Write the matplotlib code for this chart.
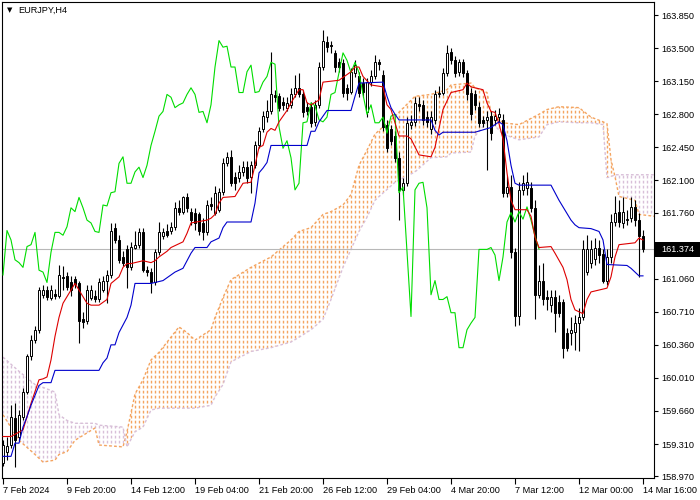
import numpy as np
import matplotlib
matplotlib.use("Agg")
import matplotlib.pyplot as plt
import matplotlib.transforms as mtransforms
from matplotlib.path import Path
from matplotlib.patches import PathPatch, Rectangle

plt.rcParams['font.family'] = ['Liberation Sans', 'DejaVu Sans']

symbol = "EURJPY,H4"
last_price = 161.374

opens = [
    159.11, 159.23, 159.30, 159.59, 159.39, 159.60, 159.86, 160.24, 160.41, 160.52,
    160.89, 160.94, 160.86, 160.90, 160.88, 161.08, 161.09, 161.03, 161.06, 161.01,
    160.63, 160.61, 160.86, 160.88, 160.84, 160.94, 161.04, 161.10, 161.60, 161.47,
    161.29, 161.37, 161.18, 161.39, 161.42, 161.55, 161.15, 161.13, 161.02, 161.34,
    161.51, 161.56, 161.56, 161.61, 161.81, 161.77, 161.92, 161.77, 161.76, 161.74,
    161.65, 161.55, 161.85, 161.76, 161.79, 161.98, 162.28, 162.35, 162.14, 162.13,
    162.19, 162.24, 162.14, 162.26, 162.47, 162.64, 162.77, 162.83, 163.00, 162.99,
    162.93, 162.87, 162.90, 163.01, 163.08, 163.01, 162.88, 162.88, 162.72, 162.90,
    163.30, 163.56, 163.53, 163.45, 163.35, 163.34, 163.08, 163.04, 163.24, 163.20,
    163.13, 162.82, 163.14, 163.20, 163.35, 163.22, 162.69, 162.64, 162.57, 162.34,
    162.00, 162.07, 162.69, 162.72, 162.91, 162.90, 162.77, 162.64, 162.74, 163.01,
    163.03, 163.24, 163.46, 163.37, 163.25, 163.35, 163.24, 163.03, 163.01, 162.88,
    162.74, 162.74, 162.78, 162.74, 162.77, 162.74, 161.97, 162.03, 161.34, 160.66,
    162.00, 162.02, 162.02, 161.81, 160.89, 161.04, 160.87, 160.78, 160.87, 160.81,
    160.81, 160.49, 160.49, 160.50, 160.59, 160.65, 161.13, 161.23, 161.27, 161.39,
    161.32, 161.04, 161.29, 161.66, 161.77, 161.65, 161.68, 161.70, 161.82, 161.68,
    161.51]

highs = [
    159.35, 159.38, 159.72, 159.74, 159.67, 159.90, 160.26, 160.46, 160.56, 160.97,
    160.99, 160.98, 160.99, 160.95, 161.20, 161.19, 161.13, 161.09, 161.09, 161.04,
    160.71, 160.99, 160.99, 160.94, 161.07, 161.09, 161.15, 161.65, 161.65, 161.52,
    161.35, 161.42, 161.45, 161.56, 161.60, 161.60, 161.19, 161.17, 161.37, 161.66,
    161.60, 161.64, 161.66, 161.87, 161.89, 161.94, 161.97, 161.81, 161.81, 161.77,
    161.70, 161.89, 161.92, 162.04, 162.02, 162.34, 162.40, 162.42, 162.19, 162.26,
    162.31, 162.31, 162.31, 162.52, 162.67, 162.83, 162.95, 163.46, 163.06, 163.03,
    162.98, 162.98, 163.08, 163.22, 163.24, 163.06, 162.93, 162.93, 162.95, 163.35,
    163.69, 163.63, 163.58, 163.48, 163.40, 163.39, 163.12, 163.29, 163.37, 163.25,
    163.18, 163.18, 163.27, 163.43, 163.39, 163.27, 162.74, 162.69, 162.62, 162.40,
    162.13, 162.77, 162.79, 162.98, 162.98, 162.95, 162.83, 162.83, 163.06, 163.10,
    163.29, 163.53, 163.50, 163.42, 163.39, 163.39, 163.27, 163.08, 163.06, 162.93,
    162.78, 162.83, 162.83, 162.85, 162.87, 162.80, 162.15, 162.16, 161.39, 162.08,
    162.16, 162.19, 162.08, 161.89, 161.20, 161.23, 160.94, 160.94, 160.94, 160.89,
    160.85, 160.54, 160.65, 160.68, 160.75, 161.47, 161.52, 161.47, 161.49, 161.47,
    161.37, 161.37, 161.74, 161.94, 161.89, 161.92, 161.79, 161.92, 161.89, 161.76,
    161.58]

lows = [
    159.08, 159.14, 159.27, 159.07, 159.35, 159.56, 159.84, 160.20, 160.38, 160.49,
    160.86, 160.83, 160.83, 160.85, 160.86, 160.94, 160.94, 160.88, 160.96, 160.38,
    160.54, 160.58, 160.83, 160.81, 160.81, 160.92, 160.80, 161.07, 161.44, 161.23,
    161.19, 160.96, 161.15, 161.37, 161.39, 161.13, 161.09, 160.91, 160.99, 161.31,
    161.48, 161.50, 161.53, 161.58, 161.73, 161.74, 161.77, 161.63, 161.58, 161.52,
    161.47, 161.52, 161.79, 161.73, 161.77, 161.95, 162.25, 162.04, 162.00, 162.08,
    162.15, 162.07, 161.97, 162.23, 162.44, 162.61, 162.72, 162.80, 162.93, 162.83,
    162.85, 162.83, 162.87, 162.98, 162.98, 162.77, 162.79, 162.66, 162.68, 162.87,
    163.27, 163.46, 163.45, 163.25, 163.25, 162.98, 162.95, 163.01, 163.19, 162.98,
    162.98, 162.77, 163.10, 163.17, 163.27, 162.62, 162.40, 162.47, 162.30, 161.68,
    161.95, 162.04, 162.64, 162.68, 162.83, 162.69, 162.66, 162.59, 162.70, 162.98,
    163.00, 163.21, 163.33, 163.19, 163.21, 163.19, 162.95, 162.74, 162.85, 162.66,
    162.66, 162.21, 162.53, 162.69, 162.72, 161.92, 161.92, 161.28, 160.56, 160.57,
    161.95, 161.95, 161.77, 160.63, 160.86, 160.78, 160.73, 160.71, 160.50, 160.65,
    160.22, 160.29, 160.36, 160.31, 160.29, 160.62, 161.10, 161.17, 161.20, 161.23,
    161.01, 160.99, 161.23, 161.62, 161.61, 161.60, 161.63, 161.66, 161.62, 161.08,
    161.34]

closes = [
    159.30, 159.29, 159.60, 159.35, 159.62, 159.86, 160.24, 160.41, 160.52, 160.94,
    160.94, 160.87, 160.94, 160.88, 161.10, 161.07, 160.97, 160.94, 161.00, 160.61,
    160.60, 160.94, 160.94, 160.84, 161.02, 161.04, 161.10, 161.57, 161.47, 161.26,
    161.23, 161.18, 161.40, 161.42, 161.55, 161.15, 161.13, 161.02, 161.34, 161.55,
    161.55, 161.52, 161.61, 161.81, 161.77, 161.92, 161.81, 161.68, 161.65, 161.56,
    161.55, 161.84, 161.83, 161.97, 161.98, 162.28, 162.35, 162.07, 162.07, 162.19,
    162.24, 162.13, 162.26, 162.47, 162.62, 162.78, 162.83, 163.01, 162.98, 162.87,
    162.90, 162.92, 163.01, 163.08, 163.01, 162.82, 162.83, 162.71, 162.90, 163.30,
    163.58, 163.51, 163.52, 163.30, 163.30, 163.03, 163.03, 163.25, 163.32, 163.03,
    163.04, 163.14, 163.20, 163.35, 163.33, 162.67, 162.44, 162.52, 162.34, 162.00,
    162.07, 162.71, 162.72, 162.92, 162.89, 162.74, 162.72, 162.77, 163.01, 163.03,
    163.24, 163.45, 163.37, 163.24, 163.35, 163.24, 163.01, 162.80, 162.90, 162.71,
    162.71, 162.77, 162.60, 162.78, 162.80, 161.97, 162.03, 161.34, 160.66, 162.00,
    162.07, 162.08, 161.81, 160.89, 161.04, 160.84, 160.84, 160.87, 160.70, 160.70,
    160.33, 160.33, 160.52, 160.59, 160.65, 161.37, 161.37, 161.37, 161.39, 161.31,
    161.04, 161.29, 161.66, 161.76, 161.66, 161.77, 161.69, 161.82, 161.68, 161.51,
    161.374]

tenkan_bars = [0, 2, 5, 7, 9, 10, 11, 12, 13, 14, 15, 17, 18, 19, 21, 22, 24, 26, 27, 29,
               30, 31, 32, 35, 37, 38, 39, 41, 42, 45, 46, 47, 51, 52, 53, 54, 55, 58, 60, 62,
               63, 64, 65, 66, 67, 68, 69, 71, 72, 74, 75, 76, 77, 79, 80, 84, 87, 88, 89, 90,
               92, 95, 96, 97, 98, 99, 101, 102, 104, 107, 108, 109, 110, 112, 115, 116, 117, 120, 121, 122,
               123, 124, 125, 126, 127, 128, 131, 132, 133, 134, 137, 138, 140, 141, 142, 143, 145, 146, 147, 151,
               152, 153, 154, 158, 159, 160]
tenkan_vals = [159.39, 159.39, 159.46, 159.74, 159.99, 160.00, 160.02, 160.20, 160.45, 160.65,
               160.80, 160.94, 161.01, 160.94, 160.80, 160.78, 160.78, 160.84, 161.01, 161.08,
               161.18, 161.22, 161.22, 161.25, 161.23, 161.25, 161.29, 161.35, 161.39, 161.45,
               161.54, 161.65, 161.68, 161.70, 161.74, 161.86, 161.92, 161.93, 162.07, 162.08,
               162.26, 162.45, 162.47, 162.61, 162.65, 162.63, 162.72, 162.84, 162.92, 163.06,
               163.06, 162.92, 162.90, 162.95, 163.14, 163.16, 163.25, 163.30, 163.30, 163.20,
               163.11, 163.09, 162.90, 162.85, 162.71, 162.57, 162.57, 162.54, 162.37, 162.35,
               162.45, 162.65, 162.85, 163.03, 163.06, 163.13, 163.09, 163.06, 162.92, 162.83,
               162.82, 162.70, 162.54, 162.18, 161.89, 161.79, 161.79, 161.72, 161.50, 161.39,
               161.40, 161.33, 161.18, 161.05, 160.84, 160.73, 160.69, 160.84, 160.92, 160.96,
               161.08, 161.29, 161.42, 161.44, 161.49, 161.47]

kijun_bars = [0, 2, 3, 4, 5, 6, 7, 9, 10, 12, 13, 24, 25, 26, 27, 28, 29, 30, 31, 32,
              33, 37, 38, 40, 42, 43, 45, 46, 47, 48, 51, 52, 54, 55, 56, 62, 63, 64, 65, 66,
              67, 76, 77, 78, 79, 81, 87, 88, 89, 95, 96, 97, 98, 99, 107, 108, 109, 110, 118, 122,
              124, 125, 126, 127, 128, 129, 137, 138, 139, 140, 142, 143, 144, 147, 149, 150, 151, 156, 157, 158,
              159, 160]
kijun_vals = [159.18, 159.18, 159.32, 159.32, 159.49, 159.60, 159.72, 159.93, 159.96, 159.96,
              160.09, 160.09, 160.17, 160.22, 160.36, 160.36, 160.49, 160.57, 160.65, 160.78,
              161.01, 161.01, 161.02, 161.04, 161.10, 161.13, 161.17, 161.25, 161.33, 161.39,
              161.39, 161.45, 161.49, 161.60, 161.66, 161.66, 161.86, 162.18, 162.23, 162.29,
              162.47, 162.47, 162.62, 162.62, 162.72, 162.84, 162.84, 162.99, 163.13, 163.14,
              162.99, 162.87, 162.80, 162.74, 162.74, 162.63, 162.58, 162.61, 162.61, 162.66,
              162.72, 162.69, 162.52, 162.26, 162.07, 162.05, 162.05, 161.97, 161.89, 161.82,
              161.68, 161.63, 161.60, 161.59, 161.56, 161.47, 161.21, 161.20, 161.17, 161.13,
              161.09, 161.09]

cloud_bars = [0, 4, 8, 10, 13, 14, 16, 18, 23, 24, 30, 31, 33, 35, 37, 39, 44, 46, 48, 52,
              53, 55, 57, 62, 67, 72, 74, 77, 80, 82, 85, 87, 89, 91, 93, 98, 103, 107, 111, 112,
              117, 118, 121, 122, 125, 129, 134, 136, 139, 144, 147, 150, 151, 152, 153, 154, 158, 159, 163]
span_a = [159.62, 159.35, 159.20, 159.12, 159.14, 159.20, 159.23, 159.35, 159.48, 159.30,
          159.28, 159.44, 159.84, 159.99, 160.20, 160.28, 160.55, 160.49, 160.41, 160.52,
          160.65, 160.86, 161.05, 161.18, 161.29, 161.47, 161.56, 161.60, 161.74, 161.77,
          161.84, 161.95, 162.26, 162.42, 162.59, 162.78, 162.99, 163.01, 163.06, 163.11,
          163.13, 163.08, 163.03, 162.82, 162.71, 162.69, 162.80, 162.85, 162.88, 162.87,
          162.77, 162.72, 162.70, 162.32, 162.14, 161.93, 161.89, 161.74, 161.72]
span_b = [160.23, 160.08, 159.94, 159.91, 159.86, 159.62, 159.56, 159.53, 159.53, 159.51,
          159.49, 159.28, 159.44, 159.49, 159.67, 159.69, 159.69, 159.69, 159.69, 159.72,
          159.81, 159.94, 160.18, 160.29, 160.33, 160.39, 160.44, 160.52, 160.63, 160.84,
          161.18, 161.37, 161.56, 161.71, 161.89, 162.08, 162.19, 162.34, 162.35, 162.39,
          162.40, 162.57, 162.72, 162.72, 162.59, 162.53, 162.56, 162.69, 162.72, 162.71,
          162.71, 162.69, 162.13, 162.14, 162.16, 162.16, 162.16, 162.16, 162.16]

chikou_shift = 26

date_bars = [0, 16, 32, 48, 64, 80, 96, 112, 128, 144, 160]
date_labels = ["7 Feb 2024", "9 Feb 20:00", "14 Feb 12:00", "19 Feb 04:00", "21 Feb 20:00",
               "26 Feb 12:00", "29 Feb 04:00", "4 Mar 20:00", "7 Mar 12:00", "12 Mar 00:00",
               "14 Mar 16:00"]
price_ticks = [163.850, 163.500, 163.150, 162.800, 162.450, 162.100, 161.760,
               161.060, 160.710, 160.360, 160.010, 159.660, 159.310, 158.970]

# ---------------------------------------------------------------------------
W, H = 700, 500
fig = plt.figure(figsize=(7, 5), dpi=100)
fig.patch.set_facecolor('white')
ax = fig.add_axes([2 / W, 22 / H, 652 / W, 476 / H])
ax.set_facecolor('white')
YLO, YHI = 158.951, 163.988
ax.set_xlim(-0.25, 162.75)
ax.set_ylim(YLO, YHI)

n = len(closes)
bars = np.arange(n)
o = np.array(opens); h = np.array(highs); l = np.array(lows); c = np.array(closes)

# Kumo (cloud): dotted vertical hatching clipped to the area between the spans
cx = np.array(cloud_bars, dtype=float)
ca = np.array(span_a); cb = np.array(span_b)
up_col, dn_col = '#F4A460', '#D8BFD8'
up = ax.fill_between(cx, ca, cb, where=ca >= cb, interpolate=True,
                     facecolor='none', edgecolor='none', linewidth=0)
dn = ax.fill_between(cx, ca, cb, where=ca < cb, interpolate=True,
                     facecolor='none', edgecolor='none', linewidth=0)
hatch_x = np.arange(-1, 165)
dash = (0, (2.0, 1.6))
for coll, col in [(up, up_col), (dn, dn_col)]:
    for p in coll.get_paths():
        if len(p.vertices) < 3:
            continue
        patch = PathPatch(Path(p.vertices), transform=ax.transData, facecolor='none',
                          edgecolor='none', linewidth=0)
        ax.add_patch(patch)
        vl = ax.vlines(hatch_x, YLO, YHI, colors=[col], linestyles=[dash],
                       linewidths=[1.0], zorder=1)
        vl.set_clip_path(patch)
ax.plot(cx, ca, color=up_col, linestyle=dash, linewidth=1.0, zorder=1)
ax.plot(cx, cb, color=dn_col, linestyle=dash, linewidth=1.0, zorder=1)

# Bid line
ax.axhline(last_price, color='#b8b8b8', linewidth=0.8, zorder=2)

# Candles
ax.vlines(bars, l, h, color='black', linewidth=0.8, zorder=3)
body_lo = np.minimum(o, c)
body_h = np.abs(c - o)
face = ['white' if cc >= oo else 'black' for oo, cc in zip(o, c)]
ax.bar(bars, body_h, bottom=body_lo, width=0.5, color=face,
       edgecolor='black', linewidth=0.7, zorder=4)

# Ichimoku lines
ax.plot(bars[:n - chikou_shift], c[chikou_shift:], color='#00dd00', linewidth=0.8, zorder=5)
ax.plot(tenkan_bars, tenkan_vals, color='#dd0000', linewidth=0.8, zorder=6)
ax.plot(kijun_bars, kijun_vals, color='#0000cc', linewidth=0.8, zorder=6)

# Axes styling
for s in ax.spines.values():
    s.set_color('black')
    s.set_linewidth(0.8)
ax.yaxis.tick_right()
ax.set_yticks(price_ticks)
ax.set_yticklabels([f"{v:.3f}" for v in price_ticks])
ax.set_xticks(date_bars)
ax.set_xticklabels(date_labels)
for lab in ax.get_xticklabels():
    lab.set_horizontalalignment('left')
ax.tick_params(axis='y', direction='out', length=3, width=0.8, pad=2,
               labelsize=6.6, colors='black')
ax.tick_params(axis='x', direction='out', length=4, width=0.8, pad=2,
               labelsize=6.6, colors='black')

# Current price marker on the price scale
trans = mtransforms.blended_transform_factory(ax.transAxes, ax.transData)
dy = 7.5 * (YHI - YLO) / 476
ax.add_patch(Rectangle((1.0015, last_price - dy), (700 - 655) / 652, 2 * dy,
                       transform=trans, facecolor='black', edgecolor='none',
                       clip_on=False, zorder=10))
ax.text((661 - 2) / 652, last_price, f"{last_price:.3f}", transform=trans,
        color='white', fontsize=6.6, ha='left', va='center', clip_on=False, zorder=11)

# Title
fig.text(9.5 / W, 1 - 10.5 / H, '\u25bc', fontsize=5, ha='center', va='center',
         family='DejaVu Sans')
fig.text(18 / W, 1 - 10.5 / H, symbol, fontsize=6.6, ha='left', va='center')

fig.savefig('out.png', dpi=100)
